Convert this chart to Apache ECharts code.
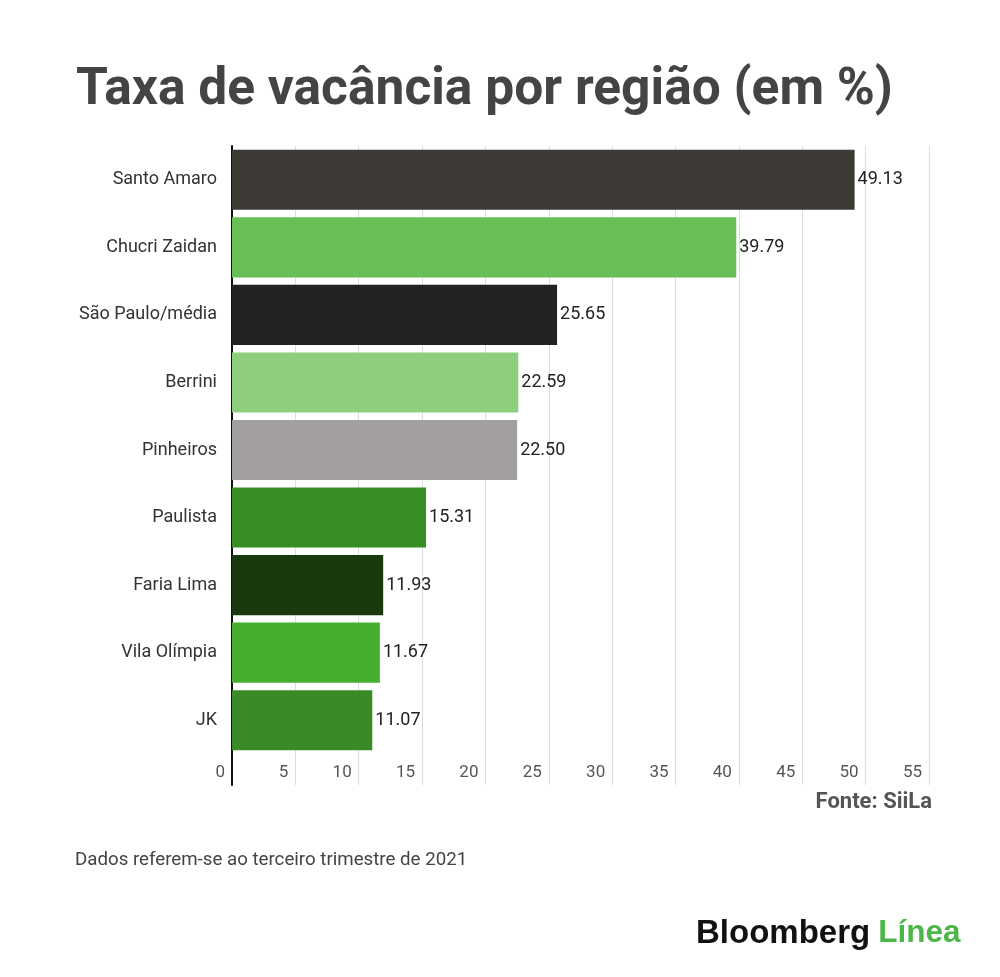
<!DOCTYPE html>
<html lang="pt">
<head>
    <meta charset="utf-8"/>
    <title>Taxa de vacância por região</title>
    <script src="https://cdn.jsdelivr.net/npm/echarts@6/dist/echarts.min.js"></script>
    <style>
        html, body { margin: 0; padding: 0; background: #fff; }
        #chart { width: 1000px; height: 977px; }
    </style>
</head>
<body>
<div id="chart"></div>
<script type="text/javascript">
    var regions = ['Santo Amaro', 'Chucri Zaidan', 'São Paulo/média', 'Berrini', 'Pinheiros',
        'Paulista', 'Faria Lima', 'Vila Olímpia', 'JK'];
    var vacancy = [49.13, 39.79, 25.65, 22.59, 22.50, 15.31, 11.93, 11.67, 11.07];
    var barColors = ['#3d3935', '#67bf55', '#222222', '#8ecf7e', '#a39f9e',
        '#378e25', '#19380e', '#45ae2f', '#3a8b27'];
    var xTicks = [0, 5, 10, 15, 20, 25, 30, 35, 40, 45, 50, 55];

    var chart = echarts.init(document.getElementById('chart'));

    var xMin = xTicks[0], xMax = xTicks[xTicks.length - 1], xStep = xTicks[1] - xTicks[0];

    var option = {
        backgroundColor: '#ffffff',
        animation: false,
        title: {
            text: 'Taxa de vacância por região (em %)',
            left: 71,
            top: 60,
            textStyle: {
                fontFamily: 'Roboto',
                fontWeight: 'bold',
                fontSize: 51.5,
                color: '#444444'
            }
        },
        grid: [
            {left: 232, right: 71, top: 146, height: 608},
            {left: 232, right: 71, top: 754, height: 31}
        ],
        xAxis: [{
            type: 'value',
            gridIndex: 0,
            min: xMin, max: xMax, interval: xStep,
            axisLine: {show: false},
            axisTick: {show: false},
            axisLabel: {show: false},
            splitLine: {lineStyle: {color: '#dddddd', width: 1}}
        }, {
            type: 'value',
            gridIndex: 1,
            min: xMin, max: xMax, interval: xStep,
            axisLine: {show: false},
            axisTick: {show: false},
            splitLine: {lineStyle: {color: '#dddddd', width: 1}},
            axisLabel: {
                inside: true,
                margin: 12,
                align: 'right',
                verticalAlign: 'middle',
                padding: [0, 7, 0, 0],
                fontFamily: 'Roboto',
                fontSize: 17,
                color: '#555555'
            }
        }],
        yAxis: [{
            type: 'category',
            gridIndex: 0,
            inverse: true,
            data: regions,
            axisLine: {lineStyle: {color: '#111111', width: 2}},
            axisTick: {show: false},
            axisLabel: {
                margin: 15,
                fontFamily: 'Roboto',
                fontSize: 18,
                color: '#333333'
            }
        }, {
            type: 'category',
            gridIndex: 1,
            data: [''],
            axisLine: {lineStyle: {color: '#111111', width: 2}},
            axisTick: {show: false},
            axisLabel: {show: false}
        }],
        series: [{
            type: 'bar',
            xAxisIndex: 0,
            yAxisIndex: 0,
            barCategoryGap: '11%',
            data: vacancy.map(function (v, i) {
                return {value: v, itemStyle: {color: barColors[i]}};
            }),
            label: {
                show: true,
                position: 'right',
                distance: 3,
                fontFamily: 'Roboto',
                fontSize: 18,
                color: '#222222',
                formatter: function (p) { return p.value.toFixed(2); }
            }
        }],
        graphic: [{
            type: 'text',
            right: 68,
            top: 791,
            style: {
                text: 'Fonte: SiiLa',
                fontFamily: 'Roboto',
                fontWeight: 'bold',
                fontSize: 22,
                fill: '#555555'
            }
        }, {
            type: 'text',
            left: 75,
            top: 851,
            style: {
                text: 'Dados referem-se ao terceiro trimestre de 2021',
                fontFamily: 'Roboto',
                fontSize: 18.7,
                fill: '#444444'
            }
        }, {
            type: 'text',
            left: 696,
            top: 917,
            style: {
                text: '{b|Bloomberg}{l|Línea}',
                rich: {
                    b: {fontFamily: 'Liberation Sans', fontWeight: 'bold', fontSize: 33, fill: '#111111', color: '#111111'},
                    l: {fontFamily: 'Liberation Sans', fontWeight: 'bold', fontSize: 31.5, fill: '#4cb648', color: '#4cb648',
                        padding: [0, 0, 0, 8]}
                }
            }
        }]
    };

    chart.setOption(option);
</script>
</body>
</html>
